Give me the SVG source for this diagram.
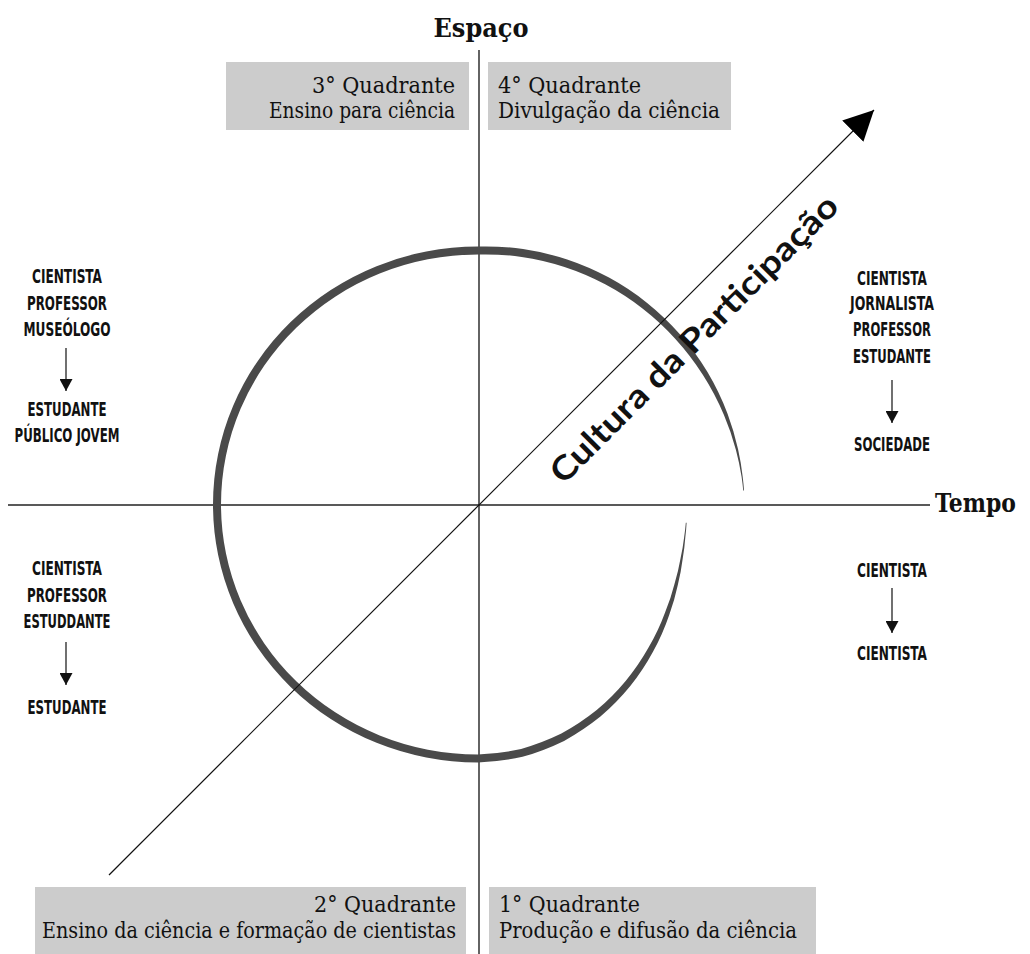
<svg xmlns="http://www.w3.org/2000/svg" width="1030" height="954" viewBox="0 0 1030 954">
<defs>
<style>
.bg{fill:#ffffff}
.ax{stroke:#222222;stroke-width:1.4;fill:none}
.box{fill:#cccccc}
.q{font-family:"DejaVu Serif","Liberation Serif",serif;font-size:22px;fill:#111111;font-stretch:condensed}
.axl{font-family:"DejaVu Serif","Liberation Serif",serif;font-weight:bold;font-size:26px;fill:#111111}
.role{font-family:"DejaVu Sans","Liberation Sans",sans-serif;font-weight:bold;font-stretch:condensed;font-size:19px;fill:#111111;text-anchor:middle}
.arr{stroke:#111111;stroke-width:1.2;fill:none}
.diag{font-family:Lato,"DejaVu Sans",sans-serif;font-weight:bold;font-size:33px;fill:#111111}
.spiral{fill:#4a4a4a}
</style>
<marker id="ah" markerUnits="userSpaceOnUse" viewBox="0 0 12 13" refX="12" refY="6.5" markerWidth="12" markerHeight="13" orient="auto">
<path d="M0,0 L12,6.5 L0,13 Z" fill="#111111"/>
</marker>
<marker id="big" markerUnits="userSpaceOnUse" viewBox="0 0 30 30" refX="30" refY="15" markerWidth="30" markerHeight="30" orient="auto">
<path d="M0,0 L30,15 L0,30 Z" fill="#000000"/>
</marker>
</defs>
<rect class="bg" x="0" y="0" width="1030" height="954"/>

<g id="axes">
<line class="ax" x1="479" y1="50" x2="479" y2="954"/>
<line class="ax" x1="8" y1="505" x2="930" y2="505"/>
</g>

<g id="spiral">
<path class="spiral" d="M744.04 490.56
A266 266 0 0 0 742.68 476.68
A266 266 0 0 0 738.07 449.22
A266 266 0 0 0 727.55 413.67
A265 265 0 0 0 707.47 372.01
A265 265 0 0 0 680.34 334.71
A264 264 0 0 0 647.14 302.93
A263 263 0 0 0 608.99 277.62
A262 262 0 0 0 567.17 259.51
A260 260 0 0 0 523.04 249.07
A259 259 0 0 0 478 246.5
A265 258 0 0 0 478 762.5
A257 257 0 0 0 522.50 756.87
A254 254 0 0 0 564.06 740.94
A248 248 0 0 0 600.44 716.56
A241 241 0 0 0 630.29 685.99
A233 233 0 0 0 653.12 651.44
A225 225 0 0 0 669.19 614.89
A218 218 0 0 0 677.75 585.21
A213 213 0 0 0 682.61 559.33
A211 211 0 0 0 685.32 537.34
A210 210 0 0 0 686.60 522.75
L685.81 522.68
A209 209 0 0 1 684.13 537.15
A209 209 0 0 1 680.47 558.75
A211 211 0 0 1 674.49 583.89
A214 214 0 0 1 665.06 612.50
A219 219 0 0 1 648.53 647.59
A226 226 0 0 1 625.87 680.73
A233 233 0 0 1 596.70 710.10
A240 240 0 0 1 561.38 733.60
A246 246 0 0 1 521.12 749.02
A249 249 0 0 1 478 754.5
A257 250 0 0 1 478 254.5
A252 252 0 0 1 521.65 256.93
A253 253 0 0 1 564.47 266.94
A254 254 0 0 1 605.16 284.26
A255 255 0 0 1 642.50 308.46
A257 257 0 0 1 675.38 338.88
A258 258 0 0 1 702.81 374.70
A260 260 0 0 1 723.96 414.98
A262 262 0 0 1 735.89 449.68
A264 264 0 0 1 741.59 476.80
A265 265 0 0 1 743.24 490.60 Z"/>
</g>

<g id="connectors">
<line class="arr" x1="109" y1="875" x2="874" y2="110" stroke-width="1.3" marker-end="url(#big)"/>
<line class="arr" x1="66" y1="348" x2="66" y2="391" marker-end="url(#ah)"/>
<line class="arr" x1="892" y1="380" x2="892" y2="423" marker-end="url(#ah)"/>
<line class="arr" x1="66" y1="642" x2="66" y2="685" marker-end="url(#ah)"/>
<line class="arr" x1="892" y1="588" x2="892" y2="633" marker-end="url(#ah)"/>
</g>

<g id="label-espaco">
<text class="axl" x="481" y="37" text-anchor="middle" textLength="95" lengthAdjust="spacingAndGlyphs">Espaço</text>
</g>
<g id="label-tempo">
<text class="axl" x="935" y="512" font-size="25" textLength="81" lengthAdjust="spacingAndGlyphs">Tempo</text>
</g>
<g id="label-cultura">
<text class="diag" transform="translate(702,347) rotate(-45)" x="0" y="0" text-anchor="middle" textLength="392" lengthAdjust="spacingAndGlyphs">Cultura da Participação</text>
</g>

<g id="q3">
<rect class="box" x="226" y="62" width="243" height="68"/>
<text class="q" x="455" y="93" text-anchor="end" textLength="143" lengthAdjust="spacingAndGlyphs">3° Quadrante</text>
<text class="q" x="455" y="118" text-anchor="end" textLength="186" lengthAdjust="spacingAndGlyphs">Ensino para ciência</text>
</g>
<g id="q4">
<rect class="box" x="488" y="62" width="243" height="68"/>
<text class="q" x="498" y="93" textLength="143" lengthAdjust="spacingAndGlyphs">4° Quadrante</text>
<text class="q" x="498" y="118" textLength="222" lengthAdjust="spacingAndGlyphs">Divulgação da ciência</text>
</g>
<g id="q2">
<rect class="box" x="35" y="887" width="431" height="67"/>
<text class="q" x="456" y="912" text-anchor="end" textLength="142" lengthAdjust="spacingAndGlyphs">2° Quadrante</text>
<text class="q" x="456" y="938" text-anchor="end" textLength="414" lengthAdjust="spacingAndGlyphs">Ensino da ciência e formação de cientistas</text>
</g>
<g id="q1">
<rect class="box" x="489" y="887" width="327" height="67"/>
<text class="q" x="499" y="912" textLength="141" lengthAdjust="spacingAndGlyphs">1° Quadrante</text>
<text class="q" x="499" y="938" textLength="298" lengthAdjust="spacingAndGlyphs">Produção e difusão da ciência</text>
</g>

<g id="roles-q3">
<text class="role" x="67" y="283" textLength="70" lengthAdjust="spacingAndGlyphs">CIENTISTA</text>
<text class="role" x="67" y="310" textLength="80" lengthAdjust="spacingAndGlyphs">PROFESSOR</text>
<text class="role" x="67" y="336" textLength="87" lengthAdjust="spacingAndGlyphs">MUSEÓLOGO</text>
<text class="role" x="67" y="416" textLength="79" lengthAdjust="spacingAndGlyphs">ESTUDANTE</text>
<text class="role" x="67" y="442" textLength="105" lengthAdjust="spacingAndGlyphs">PÚBLICO JOVEM</text>
</g>
<g id="roles-q4">
<text class="role" x="892" y="285" textLength="70" lengthAdjust="spacingAndGlyphs">CIENTISTA</text>
<text class="role" x="892" y="310" textLength="84" lengthAdjust="spacingAndGlyphs">JORNALISTA</text>
<text class="role" x="892" y="336" textLength="78" lengthAdjust="spacingAndGlyphs">PROFESSOR</text>
<text class="role" x="892" y="363" textLength="78" lengthAdjust="spacingAndGlyphs">ESTUDANTE</text>
<text class="role" x="892" y="451" textLength="76" lengthAdjust="spacingAndGlyphs">SOCIEDADE</text>
</g>
<g id="roles-q2">
<text class="role" x="67" y="575" textLength="70" lengthAdjust="spacingAndGlyphs">CIENTISTA</text>
<text class="role" x="67" y="602" textLength="80" lengthAdjust="spacingAndGlyphs">PROFESSOR</text>
<text class="role" x="67" y="628" textLength="87" lengthAdjust="spacingAndGlyphs">ESTUDDANTE</text>
<text class="role" x="67" y="714" textLength="79" lengthAdjust="spacingAndGlyphs">ESTUDANTE</text>
</g>
<g id="roles-q1">
<text class="role" x="892" y="577" textLength="70" lengthAdjust="spacingAndGlyphs">CIENTISTA</text>
<text class="role" x="892" y="660" textLength="70" lengthAdjust="spacingAndGlyphs">CIENTISTA</text>
</g>
</svg>
